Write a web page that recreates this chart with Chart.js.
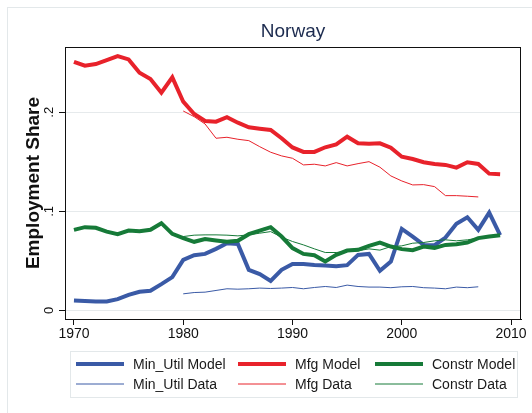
<html><head><title>Norway - Employment Share</title>
<script src="https://cdn.jsdelivr.net/npm/chart.js"></script>
<style>
    body {
        margin: 0;
        background: #fff;
    }
    #wrap {
        width: 532px;
        height: 413px;
    }
</style>
</head>
<body>
<div id="wrap"><canvas id="chart" width="532" height="413"></canvas></div>
<script>
// years for model series (1970-2009) and data series (1980-2007)
const modelYears = [];
for (let y = 1970; y <= 2009; y++) modelYears.push(y);
const dataYears = [];
for (let y = 1980; y <= 2007; y++) dataYears.push(y);

const minUtilModel = [.0101,.0095,.0091,.0091,.0115,.0158,.0189,.0199,.0266,.0337,
    .0511,.0558,.0571,.0622,.0679,.0672,.041,.0367,.0299,.041,
    .047,.047,.046,.0454,.0447,.0457,.0561,.0571,.040,.0494,
    .0823,.0746,.0662,.0659,.0736,.0874,.0941,.0814,.0988,.076];
const mfgModel = [.251,.247,.2487,.2527,.2567,.2534,.240,.2336,.2198,.2353,
    .2107,.1983,.1912,.1905,.195,.1895,.1849,.1835,.1822,.1738,
    .1645,.160,.160,.1647,.1677,.1754,.1687,.1683,.1687,.1643,
    .1552,.1529,.1496,.1479,.1469,.1442,.1496,.1479,.1381,.1375];
const constrModel = [.0814,.0841,.0834,.0796,.077,.0806,.080,.0814,.0881,.0773,
    .073,.0693,.072,.0706,.0693,.0703,.077,.0806,.0841,.0746,
    .063,.0571,.0558,.0494,.0561,.0605,.0612,.0652,.0686,.0645,
    .0619,.0609,.0645,.0632,.0662,.0669,.0686,.073,.0746,.076];

const minUtilData = [.0168,.0181,.0185,.0202,.0219,.0215,.0219,.0226,.0222,.0226,
    .0232,.0219,.0232,.0242,.0232,.0256,.0242,.0236,.0236,.023,
    .0239,.0242,.023,.0226,.0219,.0236,.023,.0239];
const mfgData = [.2013,.1956,.1882,.1738,.1748,.1728,.1714,.1653,.1597,.156,
    .1536,.1469,.1476,.1459,.1492,.1459,.1482,.1502,.1446,.1358,
    .1307,.1267,.127,.125,.1159,.1159,.1153,.1146];
const constrData = [.0746,.076,.0763,.0763,.076,.0753,.0763,.078,.0796,.074,
    .0696,.0662,.0622,.0585,.0585,.0595,.0602,.0622,.0609,.0645,
    .0652,.0679,.0686,.0703,.0713,.0703,.0713,.073];

const xTicks = [1970, 1980, 1990, 2000, 2010];
const yTicks = [0, 0.1, 0.2];
const yTickLabels = ['0', '.1', '.2'];

const BLUE = '#3a5aa6';
const RED = '#e8222b';
const GREEN = '#167a38';
const FONT = '"Liberation Sans", Arial, sans-serif';

function pts(years, vals) {
    return years.map((x, i) => ({ x: x, y: vals[i] }));
}

function ds(label, years, vals, color, width, order) {
    return {
        label: label,
        data: pts(years, vals),
        borderColor: color,
        backgroundColor: color,
        borderWidth: width,
        pointRadius: 0,
        tension: 0,
        fill: false,
        order: order
    };
}

// legend in Stata layout: 3 columns, 2 rows
const legendPlugin = {
    id: 'stataDecor',
    beforeDraw(chart) {
        const ctx = chart.ctx;
        ctx.save();
        ctx.fillStyle = '#fff';
        ctx.fillRect(0, 0, chart.width, chart.height);
        // outer graph region
        ctx.strokeStyle = '#e3e8ea';
        ctx.lineWidth = 1;
        ctx.strokeRect(7.5, 7.5, 600, 600);
        ctx.restore();
    },
    afterDraw(chart) {
        const ctx = chart.ctx;
        const a = chart.chartArea;
        ctx.save();
        // plot frame
        ctx.strokeStyle = '#111';
        ctx.lineWidth = 1;
        ctx.strokeRect(Math.round(a.left) + 0.5, Math.round(a.top) + 0.5,
            Math.round(a.right - a.left) - 1, Math.round(a.bottom - a.top));

        // title
        ctx.fillStyle = '#1c2b4f';
        ctx.font = '19px ' + FONT;
        ctx.textAlign = 'center';
        ctx.textBaseline = 'middle';
        ctx.fillText('Norway', (a.left + a.right) / 2, 32);

        // legend box
        ctx.strokeStyle = '#e3e8ea';
        ctx.strokeRect(70.5, 351.5, 447, 46);
        const cols = [76, 238, 375];
        const rows = [364, 384];
        const sets = chart.data.datasets;
        ctx.font = '14px ' + FONT;
        ctx.textAlign = 'left';
        ctx.fillStyle = '#1a1a1a';
        sets.forEach((d, i) => {
            const c = i % 3, r = Math.floor(i / 3);
            const x = cols[c], y = rows[r];
            ctx.strokeStyle = d.borderColor;
            ctx.lineWidth = d.borderWidth;
            ctx.beginPath();
            ctx.moveTo(x, y);
            ctx.lineTo(x + 48, y);
            ctx.stroke();
            ctx.fillText(d.label, x + 57, y + 1);
        });
        ctx.restore();
    }
};

new Chart(document.getElementById('chart'), {
    type: 'line',
    data: {
        datasets: [
            ds('Min_Util Model', modelYears, minUtilModel, BLUE, 4, 6),
            ds('Mfg Model', modelYears, mfgModel, RED, 4, 5),
            ds('Constr Model', modelYears, constrModel, GREEN, 4, 4),
            ds('Min_Util Data', dataYears, minUtilData, BLUE, 1, 3),
            ds('Mfg Data', dataYears, mfgData, RED, 1, 2),
            ds('Constr Data', dataYears, constrData, GREEN, 1, 1)
        ]
    },
    options: {
        responsive: false,
        animation: false,
        layout: { padding: { left: 0, top: 47, right: 11, bottom: 0 } },
        plugins: {
            legend: { display: false },
            tooltip: { enabled: false }
        },
        scales: {
            x: {
                type: 'linear',
                min: 1969.18,
                max: 2010.91,
                afterBuildTicks: s => { s.ticks = xTicks.map(v => ({ value: v })); },
                afterFit: s => { s.height = 94; },
                grid: { drawOnChartArea: false, drawTicks: true, tickLength: 6, tickColor: '#111' },
                border: { color: '#111', width: 1 },
                ticks: {
                    color: '#111',
                    padding: 1,
                    maxRotation: 0,
                    font: { family: FONT, size: 14 },
                    callback: v => String(v)
                }
            },
            y: {
                type: 'linear',
                min: -0.0086,
                max: 0.2659,
                afterBuildTicks: s => { s.ticks = yTicks.map(v => ({ value: v })); },
                afterFit: s => { s.width = 65; },
                grid: { color: '#e6eaec', lineWidth: 1, drawTicks: true, tickLength: 6, tickColor: '#111' },
                border: { color: '#111', width: 1 },
                ticks: {
                    color: '#111',
                    padding: 4,
                    minRotation: 90,
                    maxRotation: 90,
                    crossAlign: 'center',
                    font: { family: FONT, size: 13 },
                    callback: (v) => yTickLabels[yTicks.indexOf(v)]
                },
                title: {
                    display: true,
                    text: 'Employment Share',
                    color: '#111',
                    padding: { top: 22, bottom: 0 },
                    font: { family: FONT, size: 19, weight: 'bold' }
                }
            }
        }
    },
    plugins: [legendPlugin]
});
</script>
</body>
</html>
